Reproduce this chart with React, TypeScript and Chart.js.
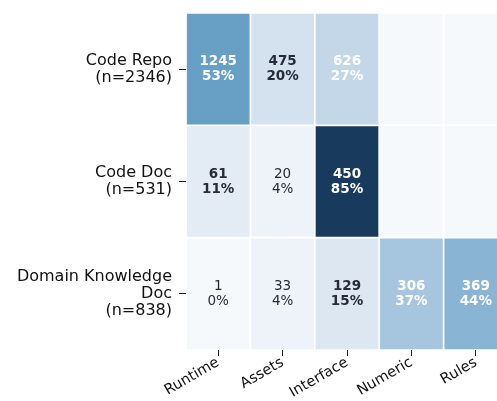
import React, { useEffect, useRef } from "react";
import { Chart, registerables } from "chart.js";

Chart.register(...registerables);

// ---- data ----
const columns = ["Runtime", "Assets", "Interface", "Numeric", "Rules"];
const rowNames: string[][] = [["Code Repo"], ["Code Doc"], ["Domain Knowledge", "Doc"]];
const codeRepoCounts = [1245, 475, 626, 0, 0];
const codeDocCounts = [61, 20, 450, 0, 0];
const domainDocCounts = [1, 33, 129, 306, 369];
const rowCounts = [codeRepoCounts, codeDocCounts, domainDocCounts];

// ---- colour map (share of row -> colour) ----
const colorStops: [number, string][] = [
  [0.0, "#f5f9fc"],
  [0.04, "#eef3f9"],
  [0.11, "#e4ecf5"],
  [0.15, "#dee7f1"],
  [0.2, "#d4e2ee"],
  [0.27, "#c3d7e8"],
  [0.37, "#a5c4dd"],
  [0.44, "#89b4d3"],
  [0.53, "#67a0c4"],
  [0.85, "#173a5c"],
];

function hexToRgb(h: string) {
  const n = parseInt(h.slice(1), 16);
  return [(n >> 16) & 255, (n >> 8) & 255, n & 255];
}
function cmap(t: number) {
  if (t <= colorStops[0][0]) return colorStops[0][1];
  for (let i = 1; i < colorStops.length; i++) {
    const [t1, c1] = colorStops[i];
    const [t0, c0] = colorStops[i - 1];
    if (t <= t1) {
      const f = (t - t0) / (t1 - t0);
      const a = hexToRgb(c0);
      const b = hexToRgb(c1);
      const m = a.map((v, k) => Math.round(v + (b[k] - v) * f));
      return `rgb(${m[0]},${m[1]},${m[2]})`;
    }
  }
  return colorStops[colorStops.length - 1][1];
}

const sum = (a: number[]) => a.reduce((s, v) => s + v, 0);
const FONT = '"DejaVu Sans", sans-serif';

const annotatePlugin = {
  id: "annotate",
  afterDatasetsDraw(chart: any) {
    const ctx = chart.ctx;
    ctx.save();
    chart.data.datasets.forEach((_ds: any, di: number) => {
      const meta = chart.getDatasetMeta(di);
      const counts = rowCounts[di];
      const total = sum(counts);
      meta.data.forEach((bar: any, ci: number) => {
        const c = counts[ci];
        if (!c) return;
        const frac = c / total;
        const pct = Math.round(frac * 100);
        const { x, y, base } = bar.getProps(["x", "y", "base"], true);
        const cy = (y + base) / 2;
        ctx.font = `${frac >= 0.1 ? "bold " : ""}13.5px ${FONT}`;
        ctx.fillStyle = frac >= 0.25 ? "#ffffff" : "#262b36";
        ctx.textAlign = "center";
        ctx.textBaseline = "middle";
        ctx.fillText(String(c), x, cy - 7.5);
        ctx.fillText(pct + "%", x, cy + 7.5);
      });
    });
    ctx.restore();
  },
};

export default function App() {
  const ref = useRef<HTMLCanvasElement | null>(null);

  useEffect(() => {
    if (!ref.current) return;
    const datasets = rowCounts.map((counts, r) => {
      const total = sum(counts);
      return {
        label: rowNames[r].join(" "),
        data: counts.map(() => [r, r + 1]),
        backgroundColor: counts.map((c) => cmap(c / total)),
        borderColor: "#ffffff",
        borderWidth: 1.2,
        borderSkipped: false,
        grouped: false,
        barPercentage: 1,
        categoryPercentage: 1,
      };
    });
    const chart = new Chart(ref.current, {
      type: "bar",
      data: { labels: columns, datasets: datasets as any },
      options: {
        animation: false,
        responsive: false,
        layout: { padding: { left: 0, right: 4, top: 13, bottom: 0 } },
        plugins: { legend: { display: false }, tooltip: { enabled: false } },
        scales: {
          x: {
            type: "category",
            offset: true,
            grid: { offset: false, drawOnChartArea: false, drawTicks: true, tickLength: 6, color: "#222222", lineWidth: 1 },
            border: { display: false },
            ticks: {
              minRotation: 30,
              maxRotation: 30,
              padding: -2,
              color: "#111111",
              font: { family: FONT, size: 14.5 },
            },
            afterFit: (scale: any) => {
              scale.height = 51;
              scale.paddingLeft = 0;
              scale.paddingRight = 0;
            },
          },
          y: {
            type: "linear",
            reverse: true,
            min: 0,
            max: 3,
            afterBuildTicks: (scale: any) => {
              scale.ticks = [0.5, 1.5, 2.5].map((v) => ({ value: v }));
            },
            grid: { drawOnChartArea: false, drawTicks: true, tickLength: 7, color: "#222222", lineWidth: 1 },
            border: { display: false },
            ticks: {
              padding: 7,
              color: "#111111",
              font: { family: FONT, size: 16, lineHeight: 1.06 },
              callback: (v: any) => {
                const r = Math.floor(Number(v));
                const n = sum(rowCounts[r]);
                return [...rowNames[r], `(n=${n})`];
              },
            },
            afterFit: (scale: any) => {
              scale.width = 186;
              scale.paddingTop = 0;
              scale.paddingBottom = 0;
            },
          },
        },
      },
      plugins: [annotatePlugin],
    });
    return () => chart.destroy();
  }, []);

  return (
    <div style={{ position: "fixed", left: 0, top: 0, width: 497, height: 401, overflow: "hidden", background: "#fff" }}>
      <canvas ref={ref} width={512} height={401} style={{ width: 512, height: 401, display: "block" }} />
    </div>
  );
}
